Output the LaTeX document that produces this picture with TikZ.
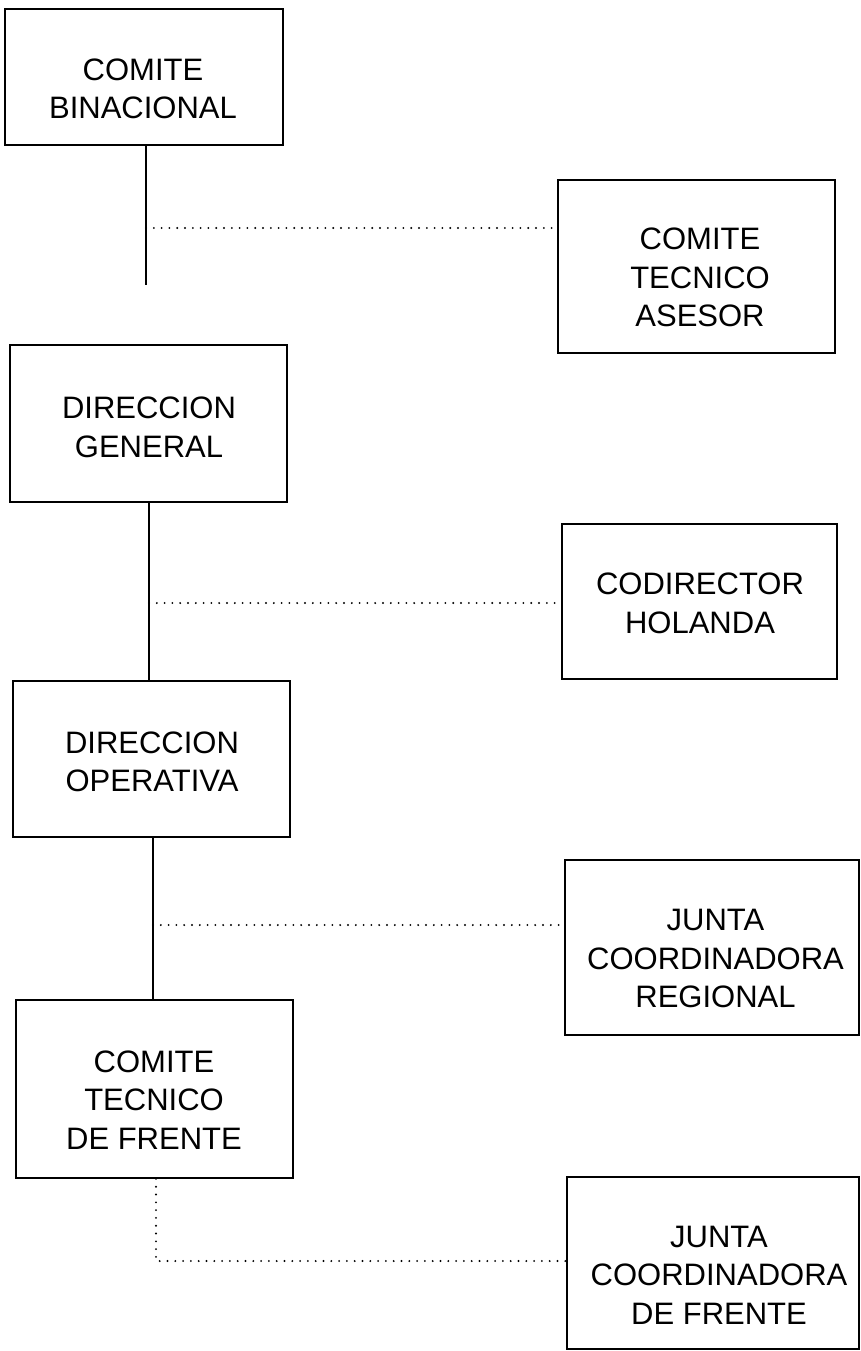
\documentclass[tikz,border=0pt]{standalone}
\usepackage{fontspec}
\setmainfont{Liberation Sans}
\begin{document}
\begin{tikzpicture}[x=1pt,y=-1pt,
  box/.style={draw=black, line width=1.8pt, rectangle, inner sep=0pt},
  lbl/.style={align=center, inner sep=0pt, font=\fontsize{31}{38.5}\selectfont},
  solidline/.style={line width=2pt},
  dotline/.style={line width=2.1pt, line cap=round, dash pattern=on 0pt off 7.8pt}]
\useasboundingbox (0,0) rectangle (860,1351);
% boxes
\node[box, minimum width=278pt, minimum height=136pt] (b1) at (144,77) {};
\node[box, minimum width=277pt, minimum height=173pt] (a1) at (696.5,266.5) {};
\node[box, minimum width=277pt, minimum height=157pt] (b2) at (148.5,423.5) {};
\node[box, minimum width=275pt, minimum height=155pt] (a2) at (699.5,601.5) {};
\node[box, minimum width=277pt, minimum height=156pt] (b3) at (151.5,759) {};
\node[box, minimum width=294pt, minimum height=175pt] (a3) at (712,947.5) {};
\node[box, minimum width=277pt, minimum height=178pt] (b4) at (154.5,1089) {};
\node[box, minimum width=292pt, minimum height=172pt] (a4) at (713,1263) {};
% texts
\node[lbl] (t1) at (143,89) {COMITE\\BINACIONAL};
\node[lbl] (ta1) at (700,277.5) {COMITE\\TECNICO\\ASESOR};
\node[lbl] (t2) at (149,427.5) {DIRECCION\\GENERAL};
\node[lbl] (ta2) at (700,603.5) {CODIRECTOR\\HOLANDA};
\node[lbl] (t3) at (152,762) {DIRECCION\\OPERATIVA};
\node[lbl] (ta3) at (715.5,958.5) {JUNTA\\COORDINADORA\\REGIONAL};
\node[lbl] (t4) at (154,1100) {COMITE\\TECNICO\\DE FRENTE};
\node[lbl] (ta4) at (719,1275) {JUNTA\\COORDINADORA\\DE FRENTE};
% junction coordinates
\coordinate (j1) at (146,228);
\coordinate (e1) at (146,285);
\coordinate (j2) at (149,603);
\coordinate (j3) at (153,925);
\coordinate (j4) at (156,1261);
% connectors
\draw[solidline] (b1.south -| j1) -- (e1);
\draw[dotline] (j1) -- (j1 -| a1.west);
\draw[solidline] (b2.south -| j2) -- (b3.north -| j2);
\draw[dotline] (j2) -- (j2 -| a2.west);
\draw[solidline] (b3.south -| j3) -- (b4.north -| j3);
\draw[dotline] (j3) -- (j3 -| a3.west);
\draw[dotline] (b4.south -| j4) -- (j4) -- (j4 -| a4.west);
\end{tikzpicture}
\end{document}
